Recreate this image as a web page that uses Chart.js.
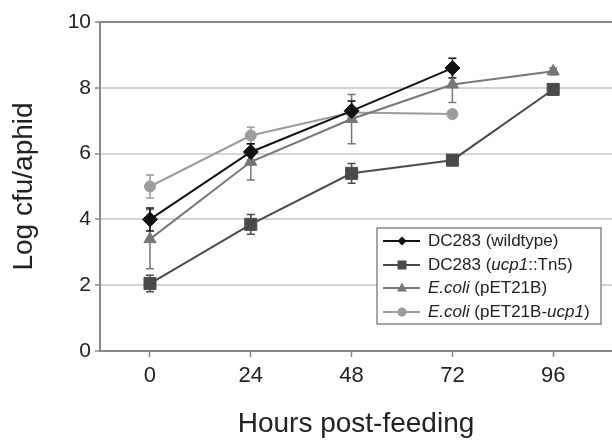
<!DOCTYPE html>
<html>
<head>
<meta charset="utf-8">
<script src="https://cdn.jsdelivr.net/npm/chart.js@4"></script>
<style>
  body { margin: 0; background: #fff; }
  #wrap { width: 612px; height: 441px; }
</style>
</head>
<body>
<div id="wrap"><canvas id="growthChart" width="612" height="441"></canvas></div>
<script>
// data
const hours = [0, 24, 48, 72, 96];
const yTicks = [0, 2, 4, 6, 8, 10];

const wildtype = [4.0, 6.05, 7.3, 8.6, null];
const wildtypeErr = [0.35, 0.25, 0.3, 0.3, null];
const tn5 = [2.05, 3.85, 5.4, 5.8, 7.95];
const tn5Err = [0.25, 0.3, 0.3, 0.15, 0.1];
const pet21b = [3.4, 5.75, 7.05, 8.1, 8.5];
const pet21bErr = [0.9, 0.55, 0.75, 0.55, 0.1];
const pet21bUcp = [5.0, 6.55, 7.25, 7.2, null];
const pet21bUcpErr = [0.35, 0.25, 0.1, 0.1, null];

const FONT = '"Liberation Sans", Arial, Helvetica, sans-serif';

function series(label, values, errs, color, style, radius) {
    return {
        label: label,
        data: hours.map((h, i) => ({ x: h, y: values[i] })),
        errors: errs,
        borderColor: color,
        backgroundColor: color,
        pointBackgroundColor: color,
        pointBorderColor: color,
        pointStyle: style,
        pointRadius: radius,
        pointBorderWidth: 1,
        borderWidth: 2,
        tension: 0,
        fill: false
    };
}

// error bars, drawn under the markers
const errorBars = {
    id: 'errorBars',
    beforeDatasetsDraw(chart) {
        const ctx = chart.ctx;
        const xs = chart.scales.x, ys = chart.scales.y;
        for (let d = chart.data.datasets.length - 1; d >= 0; d--) {
            const ds = chart.data.datasets[d];
            ctx.save();
            ctx.strokeStyle = ds.borderColor;
            ctx.lineWidth = 1.5;
            ds.data.forEach((p, i) => {
                const e = ds.errors[i];
                if (p.y == null || e == null) return;
                const x = xs.getPixelForValue(p.x);
                const y1 = ys.getPixelForValue(p.y - e);
                const y2 = ys.getPixelForValue(p.y + e);
                ctx.beginPath();
                ctx.moveTo(x, y1); ctx.lineTo(x, y2);
                ctx.moveTo(x - 4, y1); ctx.lineTo(x + 4, y1);
                ctx.moveTo(x - 4, y2); ctx.lineTo(x + 4, y2);
                ctx.stroke();
            });
            ctx.restore();
        }
    }
};

function marker(ctx, style, x, y, r) {
    ctx.beginPath();
    if (style === 'rectRot') {
        ctx.moveTo(x, y - r); ctx.lineTo(x + r, y); ctx.lineTo(x, y + r); ctx.lineTo(x - r, y);
        ctx.closePath();
    } else if (style === 'rect') {
        ctx.rect(x - r, y - r, 2 * r, 2 * r);
    } else if (style === 'triangle') {
        ctx.moveTo(x, y - r * 1.1); ctx.lineTo(x + r, y + r * 0.7); ctx.lineTo(x - r, y + r * 0.7);
        ctx.closePath();
    } else {
        ctx.arc(x, y, r, 0, Math.PI * 2);
    }
    ctx.fill();
}

// legend box with italic parts of the names
const legendRows = [
    [['DC283 (wildtype)', false]],
    [['DC283 (', false], ['ucp1', true], ['::Tn5)', false]],
    [['E.coli', true], [' (pET21B)', false]],
    [['E.coli', true], [' (pET21B-', false], ['ucp1', true], [')', false]]
];
const legendMarks = [['rectRot', 4.5], ['rect', 4.5], ['triangle', 5], ['circle', 4.5]];

const boxLegend = {
    id: 'boxLegend',
    afterDraw(chart) {
        const ctx = chart.ctx;
        ctx.save();
        ctx.fillStyle = '#fff';
        ctx.fillRect(377, 228, 224, 96);
        ctx.strokeStyle = '#888';
        ctx.lineWidth = 1.5;
        ctx.strokeRect(377, 228, 224, 96);
        const rowsY = [241, 265, 288, 312];
        legendRows.forEach((parts, i) => {
            const ds = chart.data.datasets[i];
            const y = rowsY[i];
            ctx.strokeStyle = ds.borderColor;
            ctx.lineWidth = 2;
            ctx.beginPath();
            ctx.moveTo(383, y); ctx.lineTo(420, y);
            ctx.stroke();
            ctx.fillStyle = ds.borderColor;
            marker(ctx, legendMarks[i][0], 402, y, legendMarks[i][1]);
            let x = 428;
            ctx.fillStyle = '#222';
            ctx.textBaseline = 'middle';
            parts.forEach(([text, italic]) => {
                ctx.font = (italic ? 'italic ' : '') + '17px ' + FONT;
                ctx.fillText(text, x, y);
                x += ctx.measureText(text).width;
            });
        });
        ctx.restore();
    }
};

new Chart(document.getElementById('growthChart'), {
    type: 'line',
    data: {
        datasets: [
            series('DC283 (wildtype)', wildtype, wildtypeErr, '#111111', 'rectRot', 7.5),
            series('DC283 (ucp1::Tn5)', tn5, tn5Err, '#4a4a4a', 'rect', 8.5),
            series('E.coli (pET21B)', pet21b, pet21bErr, '#777777', 'triangle', 7),
            series('E.coli (pET21B-ucp1)', pet21bUcp, pet21bUcpErr, '#9c9c9c', 'circle', 5.5)
        ]
    },
    options: {
        responsive: false,
        animation: false,
        layout: { autoPadding: false, padding: { top: 22, left: 7, right: 0, bottom: 0 } },
        plugins: {
            legend: { display: false },
            tooltip: { enabled: false }
        },
        scales: {
            x: {
                type: 'linear',
                min: -11.9,
                max: 110,
                afterBuildTicks: (axis) => { axis.ticks = hours.map(v => ({ value: v })); },
                afterFit: (axis) => { axis.height = 90; },
                grid: { drawOnChartArea: false, tickLength: 6, tickColor: '#888', tickWidth: 1.5 },
                border: { color: '#888', width: 2 },
                ticks: { padding: 6, color: '#222', font: { family: FONT, size: 22 } },
                title: {
                    display: true,
                    text: 'Hours post-feeding',
                    color: '#222',
                    padding: { top: 0, bottom: 0 },
                    font: { family: FONT, size: 28 }
                }
            },
            y: {
                min: 0,
                max: 10,
                afterBuildTicks: (axis) => { axis.ticks = yTicks.map(v => ({ value: v })); },
                afterFit: (axis) => { axis.width = 93; },
                grid: {
                    color: (c) => (c.tick && c.tick.value === 10 ? '#888' : '#d4d4d4'),
                    lineWidth: 2,
                    tickLength: 5,
                    tickColor: '#888',
                    tickWidth: 1.5
                },
                border: { color: '#888', width: 2 },
                ticks: { padding: 4, color: '#222', font: { family: FONT, size: 21 } },
                title: {
                    display: true,
                    text: 'Log cfu/aphid',
                    color: '#222',
                    padding: { top: 0, bottom: 0 },
                    font: { family: FONT, size: 28 }
                }
            }
        }
    },
    plugins: [errorBars, boxLegend]
});
</script>
</body>
</html>
